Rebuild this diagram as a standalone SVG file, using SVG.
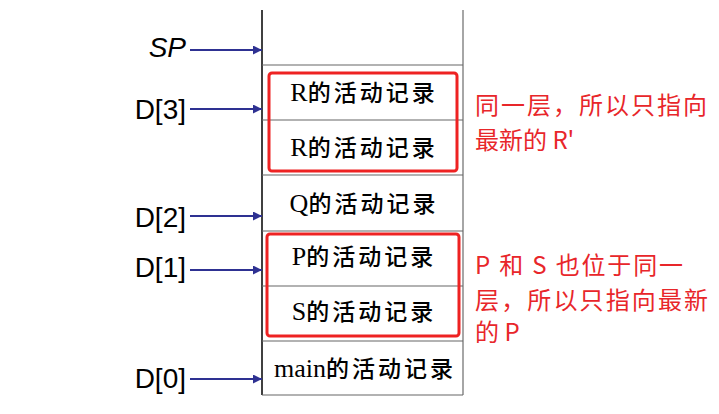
<svg xmlns="http://www.w3.org/2000/svg" width="719" height="414" viewBox="0 0 719 414">
<defs>
<style>
.lbl{font-family:"Liberation Sans",Arial,sans-serif;font-size:28px;fill:#000;text-anchor:end}
.cell{font-family:"Liberation Serif","Noto Sans CJK SC",serif;font-size:23px;font-weight:500;fill:#000;text-anchor:middle;letter-spacing:3px}
.lat{font-size:26px;font-weight:normal;letter-spacing:0}
.note{font-family:"Noto Sans CJK SC","Noto Sans",sans-serif;font-size:24px;fill:#e8262a}
.sep{stroke:#666;stroke-width:1.2}
.redbox{fill:none;stroke:#ee2222;stroke-width:3}
.arr{stroke:#2e3192;stroke-width:2;fill:none;marker-end:url(#ah)}
</style>
<marker id="ah" viewBox="0 0 10 10" refX="10" refY="5" markerWidth="4.5" markerHeight="4.5" orient="auto" markerUnits="strokeWidth">
<path d="M0,0 L10,5 L0,10 z" fill="#2e3192"/>
</marker>
</defs>
<rect width="719" height="414" fill="#fff"/>
<g id="stack">
<line x1="262" y1="10" x2="262" y2="395" stroke="#000" stroke-width="1.5"/>
<line x1="463" y1="10" x2="463" y2="395" stroke="#888" stroke-width="1.5"/>
<line class="sep" x1="262" y1="65" x2="463" y2="65"/>
<line class="sep" x1="262" y1="120" x2="463" y2="120"/>
<line class="sep" x1="262" y1="175" x2="463" y2="175"/>
<line class="sep" x1="262" y1="231" x2="463" y2="231"/>
<line class="sep" x1="262" y1="286" x2="463" y2="286"/>
<line class="sep" x1="262" y1="341" x2="463" y2="341"/>
<line class="sep" x1="262" y1="395" x2="463" y2="395"/>
</g>
<g id="cell-r1"><text class="cell" x="364" y="101"><tspan class="lat">R</tspan>的活动记录</text></g>
<g id="cell-r2"><text class="cell" x="364" y="156"><tspan class="lat">R</tspan>的活动记录</text></g>
<g id="cell-q"><text class="cell" x="364" y="212"><tspan class="lat">Q</tspan>的活动记录</text></g>
<g id="cell-p"><text class="cell" x="364" y="265"><tspan class="lat">P</tspan>的活动记录</text></g>
<g id="cell-s"><text class="cell" x="364" y="320"><tspan class="lat">S</tspan>的活动记录</text></g>
<g id="cell-main"><text class="cell" x="365" y="377"><tspan class="lat">main</tspan>的活动记录</text></g>
<g id="box-r"><rect class="redbox" x="269" y="73" width="188" height="98" rx="3"/></g>
<g id="box-ps"><rect class="redbox" x="267" y="234" width="192" height="102" rx="3"/></g>
<g id="label-sp"><text class="lbl" x="186" y="57" font-style="italic">SP</text></g>
<g id="label-d3"><text class="lbl" x="186" y="119">D[3]</text></g>
<g id="label-d2"><text class="lbl" x="186" y="227">D[2]</text></g>
<g id="label-d1"><text class="lbl" x="186" y="277">D[1]</text></g>
<g id="label-d0"><text class="lbl" x="186" y="388">D[0]</text></g>
<g id="connectors">
<line class="arr" x1="190" y1="50" x2="262" y2="50"/>
<line class="arr" x1="190" y1="109" x2="262" y2="109"/>
<line class="arr" x1="190" y1="216" x2="262" y2="216"/>
<line class="arr" x1="190" y1="270" x2="262" y2="270"/>
<line class="arr" x1="190" y1="379" x2="262" y2="379"/>
</g>
<g id="note-r">
<text class="note" x="475" y="114" textLength="232" lengthAdjust="spacing">同一层，所以只指向</text>
<text class="note" x="475" y="149">最新的 R'</text>
</g>
<g id="note-ps">
<text class="note" x="475" y="274" textLength="208" lengthAdjust="spacing">P 和 S 也位于同一</text>
<text class="note" x="475" y="309" textLength="233" lengthAdjust="spacing">层，所以只指向最新</text>
<text class="note" x="475" y="341">的 P</text>
</g>
</svg>
